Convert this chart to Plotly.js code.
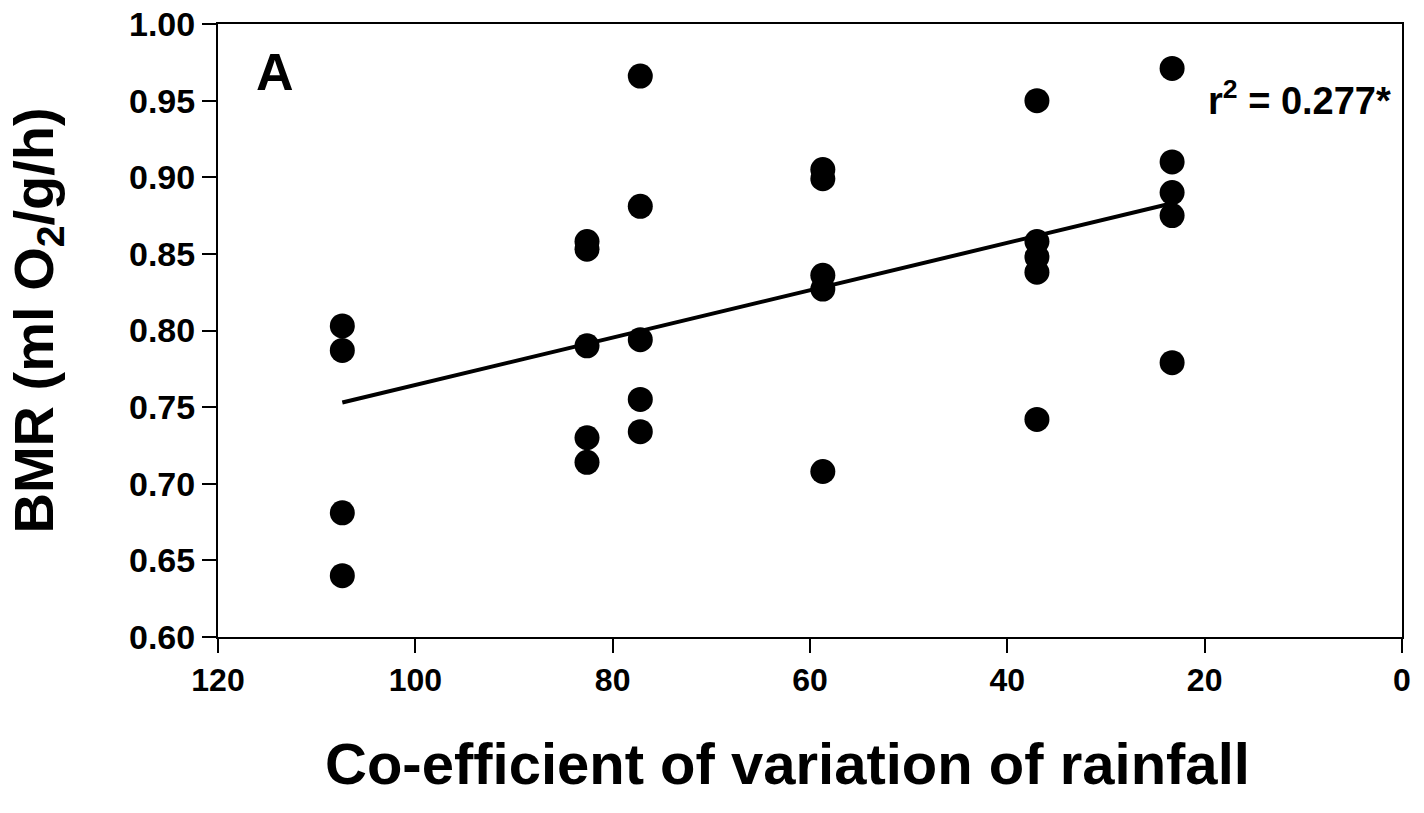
<!DOCTYPE html>
<html>
<head>
<meta charset="utf-8">
<script src="https://cdn.plot.ly/plotly-3.0.1.min.js"></script>
<style>html,body{margin:0;padding:0;background:#fff;}#chart{width:1424px;height:813px;}</style>
</head>
<body>
<div id="chart"></div>
<script>
// Data
const cvRainfall = [107.4,107.4,107.4,107.4, 82.6,82.6,82.6,82.6,82.6, 77.2,77.2,77.2,77.2,77.2, 58.7,58.7,58.7,58.7,58.7, 37.0,37.0,37.0,37.0,37.0, 23.3,23.3,23.3,23.3,23.3];
const bmr = [0.803,0.787,0.681,0.640, 0.858,0.853,0.790,0.730,0.714, 0.966,0.881,0.794,0.755,0.734, 0.905,0.899,0.836,0.827,0.708, 0.950,0.858,0.848,0.838,0.742, 0.971,0.910,0.890,0.875,0.779];
const fitX = [107.4, 23.3];
const fitY = [0.753, 0.883];
const xTicks = [120,100,80,60,40,20,0];
const yTicks = [0.60,0.65,0.70,0.75,0.80,0.85,0.90,0.95,1.00];

const FONT = "Liberation Sans, Arial, sans-serif";

const traces = [
  {x: fitX, y: fitY, mode: 'lines', line: {color: '#000', width: 4}, hoverinfo: 'skip', showlegend: false},
  {x: cvRainfall, y: bmr, mode: 'markers', marker: {color: '#000', size: 25, line: {width: 0}}, showlegend: false}
];

const layout = {
  width: 1424, height: 813,
  margin: {l: 218, r: 22, t: 24, b: 176},
  paper_bgcolor: '#fff', plot_bgcolor: '#fff',
  showlegend: false,
  xaxis: {
    range: [120, 0], tickvals: xTicks, ticktext: xTicks.map(String),
    showline: true, linecolor: '#000', linewidth: 2, mirror: true,
    ticks: 'outside', ticklen: 14, tickwidth: 2, tickcolor: '#000',
    showgrid: false, zeroline: false,
    tickfont: {family: FONT, size: 32, color: '#000', weight: 700}
  },
  yaxis: {
    range: [0.6, 1.0], tickvals: yTicks, ticktext: yTicks.map(v => v.toFixed(2)),
    showline: true, linecolor: '#000', linewidth: 2, mirror: true,
    ticks: 'outside', ticklen: 14, tickwidth: 2, tickcolor: '#000',
    showgrid: false, zeroline: false,
    tickfont: {family: FONT, size: 34, color: '#000', weight: 700}
  },
  annotations: [
    {text: 'A', xref: 'paper', yref: 'paper', x: (275-218)/1184, y: (637-72)/613, xanchor: 'center', yanchor: 'middle', showarrow: false,
     font: {family: FONT, size: 52, color: '#000', weight: 700}},
    {text: 'r<sup>2</sup> = 0.277*', xref: 'paper', yref: 'paper', x: (1299-218)/1184, y: (637-98)/613, xanchor: 'center', yanchor: 'middle', showarrow: false,
     font: {family: FONT, size: 38, color: '#000', weight: 700}},
    {text: 'Co-efficient of variation of rainfall', xref: 'paper', yref: 'paper', x: (787-218)/1184, y: (637-763)/613, xanchor: 'center', yanchor: 'middle', showarrow: false,
     font: {family: FONT, size: 58, color: '#000', weight: 700}},
    {text: 'BMR (ml O<sub>2</sub>/g/h)', xref: 'paper', yref: 'paper', x: 2/1424, xref: 'paper', y: (637-321)/613, xanchor: 'left', yanchor: 'middle', textangle: -90, showarrow: false, borderpad: 0,
     font: {family: FONT, size: 56, color: '#000', weight: 700}}
  ]
};
// place the rotated y title so its box starts at the page's left edge
layout.annotations[3].x = (0 - 218) / 1184;

Plotly.newPlot('chart', traces, layout, {staticPlot: true, displayModeBar: false});
</script>
</body>
</html>
